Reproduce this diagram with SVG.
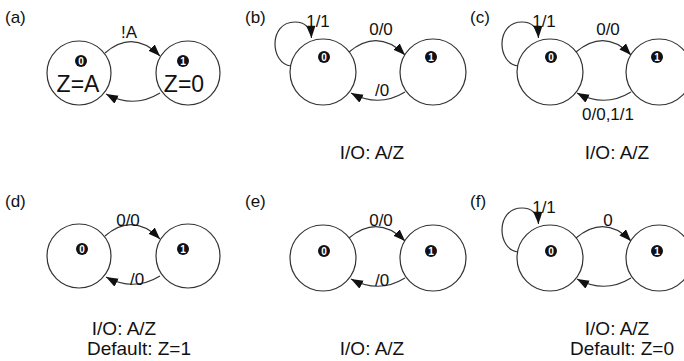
<svg xmlns="http://www.w3.org/2000/svg" width="684" height="361" viewBox="0 0 684 361">
<defs>
<marker id="ah" markerWidth="13" markerHeight="10" refX="12" refY="4.5" orient="auto" markerUnits="userSpaceOnUse"><path d="M0,0 L12,4.5 L0,9 z" fill="#111"/></marker>
<style>
.st{fill:#fff;stroke:#333;stroke-width:1.2}
.bd{fill:#111}
.bt{fill:#fff;font-family:"Liberation Sans",Arial,sans-serif;font-weight:bold;font-size:10px;text-anchor:middle}
.e{fill:none;stroke:#333;stroke-width:1.2;marker-end:url(#ah)}
.lb{font-family:"Liberation Sans",Arial,sans-serif;font-size:17px;fill:#111}
.el{font-family:"Liberation Sans",Arial,sans-serif;font-size:17px;fill:#111;text-anchor:middle}
.sv{font-family:"Liberation Sans",Arial,sans-serif;font-size:23px;fill:#111;text-anchor:middle}
.cp{font-family:"Liberation Sans",Arial,sans-serif;font-size:19px;fill:#111;text-anchor:middle}
</style>
</defs>
<rect width="684" height="361" fill="#fff"/>

<!-- panel labels -->
<text class="lb" x="5" y="23">(a)</text>
<text class="lb" x="245" y="23">(b)</text>
<text class="lb" x="470" y="23">(c)</text>
<text class="lb" x="5" y="207">(d)</text>
<text class="lb" x="245" y="207">(e)</text>
<text class="lb" x="470" y="207">(f)</text>

<g id="connectors">
<!-- (a) L=79 R=188 cy=73 -->
<path class="e" d="M105,53 Q133,29 160,56"/>
<path class="e" d="M160,93 Q134,109 106,94"/>
<!-- (b) L=323 R=433 cy=72 -->
<path class="e" d="M349,52 Q378,28 405,55"/>
<path class="e" d="M405,92 Q379,108 351,93"/>
<path class="e" d="M291,66 C270,64 268,22 295,22 C305,22 311,28 311.5,38"/>
<!-- (c) L=550 R=659 cy=72 -->
<path class="e" d="M576,52 Q605,28 631,55"/>
<path class="e" d="M631,92 Q605,108 577,93"/>
<path class="e" d="M518,66 C497,64 495,22 522,22 C532,22 538,28 538.5,38"/>
<!-- (d) L=79 R=188 cy=256 -->
<path class="e" d="M105,236 Q133,212 160,239"/>
<path class="e" d="M160,276 Q134,292 106,277"/>
<!-- (e) L=323 R=433 cy=258 -->
<path class="e" d="M349,238 Q378,214 405,241"/>
<path class="e" d="M405,278 Q379,294 351,279"/>
<!-- (f) L=550 R=659 cy=258 -->
<path class="e" d="M576,238 Q605,214 631,241"/>
<path class="e" d="M631,278 Q605,294 577,279"/>
<path class="e" d="M518,252 C497,250 495,208 522,208 C532,208 538,214 538.5,224"/>
</g>

<!-- panel (a) -->
<g id="a0"><circle class="st" cx="79" cy="73" r="32"/><circle class="bd" cx="81" cy="61" r="6"/><text class="bt" x="81" y="64.6">0</text><text class="sv" x="78" y="92">Z=A</text></g>
<g id="a1"><circle class="st" cx="188" cy="73" r="32"/><circle class="bd" cx="183" cy="61" r="6"/><text class="bt" x="183" y="64.6">1</text><text class="sv" x="184" y="92">Z=0</text></g>
<text class="el" x="129" y="38">!A</text>

<!-- panel (b) -->
<g id="b0"><circle class="st" cx="323" cy="72" r="33"/><circle class="bd" cx="324" cy="57" r="6"/><text class="bt" x="324" y="60.6">0</text></g>
<g id="b1"><circle class="st" cx="433" cy="72" r="33"/><circle class="bd" cx="431" cy="57" r="6"/><text class="bt" x="431" y="60.6">1</text></g>
<text class="el" x="318" y="27">1/1</text>
<text class="el" x="381" y="35">0/0</text>
<text class="el" x="382" y="96">/0</text>
<text class="cp" x="372" y="159">I/O: A/Z</text>

<!-- panel (c) -->
<g id="c0"><circle class="st" cx="550" cy="72" r="33"/><circle class="bd" cx="551" cy="57" r="6"/><text class="bt" x="551" y="60.6">0</text></g>
<g id="c1"><circle class="st" cx="659" cy="72" r="33"/><circle class="bd" cx="657" cy="57" r="6"/><text class="bt" x="657" y="60.6">1</text></g>
<text class="el" x="544" y="27">1/1</text>
<text class="el" x="608" y="35">0/0</text>
<text class="el" x="608" y="120">0/0,1/1</text>
<text class="cp" x="617" y="159">I/O: A/Z</text>

<!-- panel (d) -->
<g id="d0"><circle class="st" cx="79" cy="256" r="32"/><circle class="bd" cx="82" cy="249" r="6"/><text class="bt" x="82" y="252.6">0</text></g>
<g id="d1"><circle class="st" cx="188" cy="256" r="32"/><circle class="bd" cx="183" cy="249" r="6"/><text class="bt" x="183" y="252.6">1</text></g>
<text class="el" x="128" y="226">0/0</text>
<text class="el" x="137" y="285">/0</text>
<text class="cp" x="124" y="335">I/O: A/Z</text>
<text class="cp" x="139" y="355">Default: Z=1</text>

<!-- panel (e) -->
<g id="e0"><circle class="st" cx="323" cy="258" r="33"/><circle class="bd" cx="324" cy="251" r="6"/><text class="bt" x="324" y="254.6">0</text></g>
<g id="e1"><circle class="st" cx="433" cy="258" r="33"/><circle class="bd" cx="431" cy="251" r="6"/><text class="bt" x="431" y="254.6">1</text></g>
<text class="el" x="381" y="226">0/0</text>
<text class="el" x="382" y="286">/0</text>
<text class="cp" x="372" y="355">I/O: A/Z</text>

<!-- panel (f) -->
<g id="f0"><circle class="st" cx="550" cy="258" r="33"/><circle class="bd" cx="551" cy="251" r="6"/><text class="bt" x="551" y="254.6">0</text></g>
<g id="f1"><circle class="st" cx="659" cy="258" r="33"/><circle class="bd" cx="657" cy="251" r="6"/><text class="bt" x="657" y="254.6">1</text></g>
<text class="el" x="544" y="213">1/1</text>
<text class="el" x="608" y="226">0</text>
<text class="cp" x="617" y="335">I/O: A/Z</text>
<text class="cp" x="622" y="355">Default: Z=0</text>
</svg>
